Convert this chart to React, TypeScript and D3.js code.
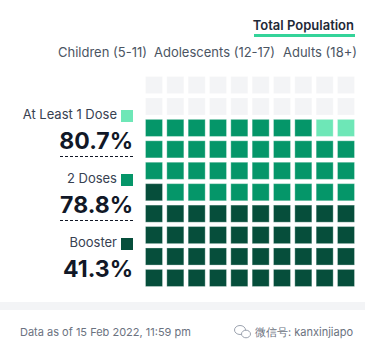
import { useEffect, useRef } from 'react'
import * as d3 from 'd3'

const categories = ['At Least 1 Dose', '2 Doses', 'Booster']
const values = [80.7, 78.8, 41.3]
const colors = ['#6ee7b7', '#059669', '#064e3b']
const groups = ['Children (5-11)', 'Adolescents (12-17)', 'Adults (18+)']
const tabLabel = 'Total Population'
const footnote = 'Data as of 15 Feb 2022, 11:59 pm'
const watermark = '微信号: kanxinjiapo'

const W = 365
const H = 353

export default function App() {
  const ref = useRef<SVGSVGElement>(null)

  useEffect(() => {
    if (!ref.current) return
    const svg = d3.select(ref.current)
    svg.selectAll('*').remove()
    const font = 'Inter, "Noto Sans", sans-serif'

    svg.append('rect').attr('width', W).attr('height', H).attr('fill', '#fff')

    // header tab
    svg.append('text')
      .attr('x', 354).attr('y', 30)
      .attr('text-anchor', 'end')
      .attr('font-family', font).attr('font-size', 13).attr('font-weight', 600)
      .attr('fill', '#1f2937')
      .text(tabLabel)
    svg.append('rect')
      .attr('x', 254).attr('y', 34).attr('width', 101).attr('height', 3)
      .attr('fill', '#34d399')

    // group labels
    const gx = [58, 154, 283]
    groups.forEach((g, i) => {
      svg.append('text')
        .attr('x', gx[i]).attr('y', 57)
        .attr('font-family', font).attr('font-size', 13)
        .attr('fill', '#4b5563')
        .text(g)
    })

    // waffle
    const idx = d3.range(10)
    const x = d3.scaleBand<number>().domain(idx).range([145, 355]).paddingInner(0.156)
    const y = d3.scaleBand<number>().domain(idx).range([76, 287]).paddingInner(0.156)
    const counts = values.map(v => Math.floor(v))

    const cellColor = (k: number) => {
      // most specific (smallest) first
      for (let i = values.length - 1; i >= 0; i--) {
        if (k < counts[i]) return colors[i]
      }
      return '#f3f4f6'
    }

    svg.append('g').selectAll('rect')
      .data(d3.range(100))
      .join('rect')
      .attr('x', k => (x(k % 10) as number) + 0.5)
      .attr('y', k => (y(9 - Math.floor(k / 10)) as number) + 0.5)
      .attr('width', x.bandwidth() - 1)
      .attr('height', y.bandwidth() - 1)
      .attr('fill', k => cellColor(k))
      .attr('stroke', '#fff').attr('stroke-opacity', 0.3).attr('stroke-width', 1)

    // legend / stats
    categories.forEach((c, i) => {
      const base = 119 + i * 64
      svg.append('rect')
        .attr('x', 121).attr('y', base - 9).attr('width', 12).attr('height', 12)
        .attr('fill', colors[i])
      svg.append('text')
        .attr('x', 117).attr('y', base)
        .attr('text-anchor', 'end')
        .attr('font-family', font).attr('font-size', 13)
        .attr('fill', '#374151')
        .text(c)
      svg.append('text')
        .attr('x', 133).attr('y', base + 29.5)
        .attr('text-anchor', 'end')
        .attr('font-family', font).attr('font-size', 23).attr('font-weight', 700)
        .attr('fill', '#111827')
        .text(`${values[i]}%`)
      if (i < categories.length - 1) {
        svg.append('line')
          .attr('x1', 60).attr('x2', 133)
          .attr('y1', base + 37.5).attr('y2', base + 37.5)
          .attr('stroke', '#111827').attr('stroke-width', 1)
          .attr('stroke-dasharray', '3,2')
      }
    })

    // footer
    svg.append('rect').attr('x', 0).attr('y', 302).attr('width', W).attr('height', 8).attr('fill', '#f3f4f6')
    svg.append('text')
      .attr('x', 20).attr('y', 336)
      .attr('font-family', font).attr('font-size', 11)
      .attr('fill', '#6b7280')
      .text(footnote)

    // watermark icon (two chat bubbles)
    const icon = svg.append('g').attr('fill', 'none').attr('stroke', '#9ca3af').attr('stroke-width', 1)
    icon.append('ellipse').attr('cx', 240).attr('cy', 330).attr('rx', 5.5).attr('ry', 4.5)
    icon.append('ellipse').attr('cx', 246).attr('cy', 334).attr('rx', 4.5).attr('ry', 3.8).attr('fill', '#fff')

    svg.append('text')
      .attr('x', 353).attr('y', 336)
      .attr('text-anchor', 'end')
      .attr('font-family', font).attr('font-size', 11)
      .attr('fill', '#6b7280')
      .text(watermark)
  }, [])

  return <svg ref={ref} width={W} height={H} style={{ position: 'absolute', left: 0, top: 0 }} />
}
